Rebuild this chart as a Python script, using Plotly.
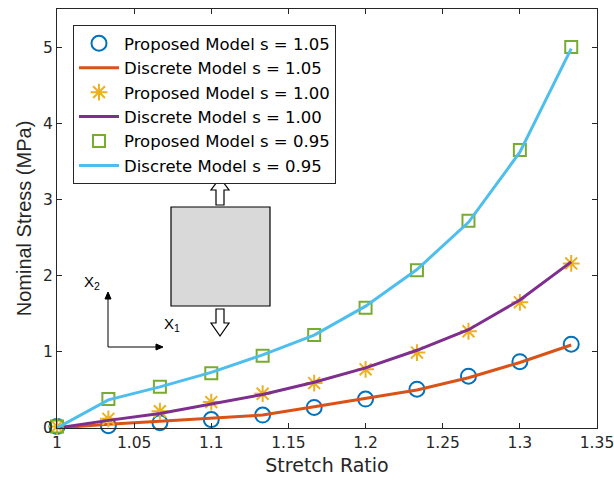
import plotly.graph_objects as go

stretch = [1.0, 1.0333, 1.0667, 1.1, 1.1333, 1.1667, 1.2, 1.2333, 1.2667, 1.3, 1.3333]

prop_105 = [0.02, 0.03, 0.07, 0.11, 0.17, 0.27, 0.38, 0.51, 0.68, 0.87, 1.10]
disc_105 = [0.0, 0.05, 0.09, 0.13, 0.17, 0.28, 0.39, 0.50, 0.66, 0.86, 1.09]
prop_100 = [0.02, 0.12, 0.22, 0.34, 0.45, 0.59, 0.77, 0.99, 1.27, 1.65, 2.16]
disc_100 = [0.0, 0.10, 0.19, 0.31, 0.44, 0.60, 0.79, 1.02, 1.29, 1.68, 2.18]
prop_095 = [0.02, 0.38, 0.54, 0.72, 0.95, 1.22, 1.58, 2.07, 2.72, 3.65, 5.00]
disc_095 = [0.0, 0.37, 0.54, 0.73, 0.96, 1.22, 1.60, 2.08, 2.70, 3.62, 4.98]

x_ticks = [1, 1.05, 1.1, 1.15, 1.2, 1.25, 1.3, 1.35]
x_tick_text = ["1", "1.05", "1.1", "1.15", "1.2", "1.25", "1.3", "1.35"]
y_ticks = [0, 1, 2, 3, 4, 5]

BLUE = "#0072BD"; ORANGE = "#D95319"; YELLOW = "#EDB120"
PURPLE = "#7E2F8E"; GREEN = "#77AC30"; CYAN = "#4DBEEE"

W, H = 614, 491
L, R, T, B = 57, 597, 9, 428

HFONT = "DejaVu Sans, Verdana, sans-serif"
VFONT = "Liberation Sans, Arial, sans-serif"

fig = go.Figure()
fig.add_trace(go.Scatter(x=stretch, y=prop_105, mode="markers", name="Proposed Model s = 1.05",
                         marker=dict(symbol="circle-open", size=15, color=BLUE, line=dict(width=2)), cliponaxis=False))
fig.add_trace(go.Scatter(x=stretch, y=disc_105, mode="lines", name="Discrete Model s = 1.05",
                         line=dict(color=ORANGE, width=3), cliponaxis=False))
fig.add_trace(go.Scatter(x=stretch, y=prop_100, mode="markers", name="Proposed Model s = 1.00",
                         marker=dict(symbol="asterisk-open", size=14, color=YELLOW, line=dict(width=2, color=YELLOW)), cliponaxis=False))
fig.add_trace(go.Scatter(x=stretch, y=disc_100, mode="lines", name="Discrete Model s = 1.00",
                         line=dict(color=PURPLE, width=3), cliponaxis=False))
fig.add_trace(go.Scatter(x=stretch, y=prop_095, mode="markers", name="Proposed Model s = 0.95",
                         marker=dict(symbol="square-open", size=12, color=GREEN, line=dict(width=2)), cliponaxis=False))
fig.add_trace(go.Scatter(x=stretch, y=disc_095, mode="lines", name="Discrete Model s = 0.95",
                         line=dict(color=CYAN, width=3), cliponaxis=False))

def px(x):
    return (x - L) / (R - L)

def py(y):
    return (B - y) / (B - T)

def path(points):
    return "M " + " L ".join(f"{px(a):.5f},{py(b):.5f}" for a, b in points) + " Z"

shapes = []
shapes.append(dict(type="rect", xref="paper", yref="paper", x0=px(171), x1=px(270), y0=py(306), y1=py(207),
                   fillcolor="#d9d9d9", line=dict(color="black", width=1.2)))
shapes.append(dict(type="path", xref="paper", yref="paper",
                   path=path([(216, 205), (216, 190), (211, 190), (220, 178), (229, 190), (224, 190), (224, 205)]),
                   fillcolor="white", line=dict(color="black", width=1.2)))
shapes.append(dict(type="path", xref="paper", yref="paper",
                   path=path([(216, 309), (216, 323), (211, 323), (220, 336), (229, 323), (224, 323), (224, 309)]),
                   fillcolor="white", line=dict(color="black", width=1.2)))
shapes.append(dict(type="line", xref="paper", yref="paper", x0=px(108), y0=py(347), x1=px(108), y1=py(298),
                   line=dict(color="black", width=1)))
shapes.append(dict(type="line", xref="paper", yref="paper", x0=px(108), y0=py(347), x1=px(157), y1=py(347),
                   line=dict(color="black", width=1)))
shapes.append(dict(type="path", xref="paper", yref="paper",
                   path=path([(105, 299), (108, 292), (111, 299)]), fillcolor="black", line=dict(color="black", width=1)))
shapes.append(dict(type="path", xref="paper", yref="paper",
                   path=path([(156, 344), (163, 347), (156, 350)]), fillcolor="black", line=dict(color="black", width=1)))

annotations = [
    dict(text="X<sub>2</sub>", xref="paper", yref="paper", x=px(82), y=py(294), xanchor="left",
         showarrow=False, font=dict(size=15, color="black", family=VFONT)),
    dict(text="X<sub>1</sub>", xref="paper", yref="paper", x=px(162), y=py(336), xanchor="left",
         showarrow=False, font=dict(size=15, color="black", family=VFONT)),
]

axis_common = dict(showgrid=False, zeroline=False, showline=True, linecolor="#262626", linewidth=1,
                   mirror="allticks", ticks="inside", ticklen=5, tickcolor="#262626",
                   tickfont=dict(size=15.5, color="#262626", family=HFONT), automargin=False,
                   ticklabeloverflow="allow")

fig.update_layout(
    width=W, height=H,
    margin=dict(l=L, r=W - R, t=T, b=H - B),
    paper_bgcolor="white", plot_bgcolor="white",
    font=dict(family=HFONT, color="#262626"),
    xaxis=dict(range=[1, 1.35], tickvals=x_ticks, ticktext=x_tick_text,
               title=dict(text="Stretch Ratio", font=dict(size=19, family=HFONT), standoff=8), **axis_common),
    yaxis=dict(range=[0, 5.5], tickvals=y_ticks,
               title=dict(text="Nominal Stress (MPa)", font=dict(size=20, family=VFONT), standoff=6), **axis_common),
    legend=dict(x=px(73), y=py(25), xanchor="left", yanchor="top", bgcolor="white",
                bordercolor="#262626", borderwidth=1, font=dict(size=16.5, color="black", family=HFONT),
                tracegroupgap=0, itemwidth=40),
    shapes=shapes, annotations=annotations, showlegend=True,
)

fig.write_html(
    "out.html",
    config={"displayModeBar": False},
    post_script="document.documentElement.style.overflow='hidden';"
                "document.body.style.overflow='hidden';document.body.style.margin='0';",
)
